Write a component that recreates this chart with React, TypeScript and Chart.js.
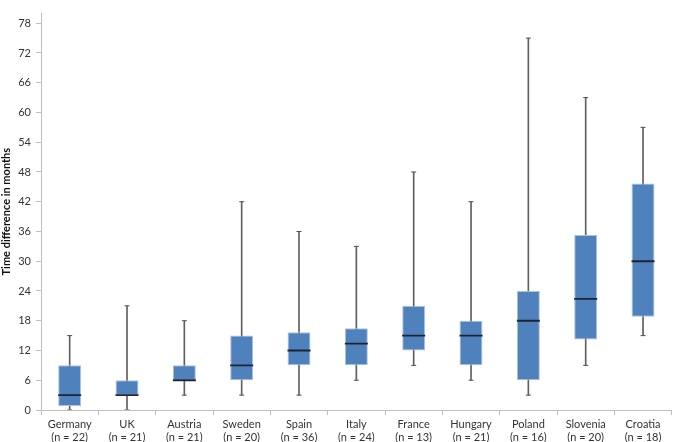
import React, { useEffect, useRef } from "react";
import { Chart, registerables } from "chart.js";

Chart.register(...registerables);

const categories = ["Germany", "UK", "Austria", "Sweden", "Spain", "Italy", "France", "Hungary", "Poland", "Slovenia", "Croatia"];
const sampleSizes = [22, 21, 21, 20, 36, 24, 13, 21, 16, 20, 18];
const minValues = [0, 0, 3, 3, 3, 6, 9, 6, 3, 9, 15];
const q1Values = [0.8, 3, 6, 6, 9, 9, 12, 9, 6, 14.2, 18.8];
const medianValues = [3, 3, 6, 9, 12, 13.4, 15, 15, 18, 22.4, 30];
const q3Values = [9, 6, 9, 15, 15.7, 16.5, 21, 18, 24, 35.3, 45.7];
const maxValues = [15, 21, 18, 42, 36, 33, 48, 42, 75, 63, 57];

const FONT = "Lato, 'Open Sans', sans-serif";

export default function App() {
  const ref = useRef<HTMLCanvasElement | null>(null);
  useEffect(() => {
    if (!ref.current) return;
    const labels = categories.map((c, i) => [c, `(n = ${sampleSizes[i]})`]);
    const chart = new Chart(ref.current, {
      type: "bar",
      data: {
        labels,
        datasets: [
          {
            type: "bar",
            label: "whisker",
            data: categories.map((_, i) => [minValues[i], maxValues[i]]),
            backgroundColor: "#606060",
            borderWidth: 0,
            barThickness: 1,
            grouped: false,
            order: 5,
          } as any,
          {
            type: "bar",
            label: "box",
            data: categories.map((_, i) => [q1Values[i], q3Values[i]]),
            backgroundColor: "#4f81bd",
            borderColor: "#a9c2e0",
            borderWidth: 1,
            borderSkipped: false,
            barPercentage: 0.4,
            categoryPercentage: 1,
            grouped: false,
            order: 4,
          } as any,
          {
            type: "line",
            label: "median",
            data: medianValues,
            showLine: false,
            pointStyle: "line",
            pointRadius: 11.5,
            pointBorderWidth: 1.8,
            pointBorderColor: "#1c2533",
            pointBackgroundColor: "#1c2533",
            order: 1,
          } as any,
          {
            type: "line",
            label: "maxCap",
            data: maxValues,
            showLine: false,
            pointStyle: "line",
            pointRadius: 2.5,
            pointBorderWidth: 1,
            pointBorderColor: "#505050",
            order: 2,
          } as any,
          {
            type: "line",
            label: "minCap",
            data: minValues,
            showLine: false,
            pointStyle: "line",
            pointRadius: 2.5,
            pointBorderWidth: 1,
            pointBorderColor: "#505050",
            order: 2,
          } as any,
        ],
      },
      options: {
        responsive: true,
        maintainAspectRatio: false,
        animation: false,
        layout: { padding: { top: 1, right: 2, left: 0, bottom: 0 } },
        plugins: { legend: { display: false }, tooltip: { enabled: false } },
        scales: {
          x: {
            offset: true,
            grid: { drawOnChartArea: false, drawTicks: true, tickLength: 5, color: "#bfbfbf", offset: true },
            border: { color: "#bfbfbf" },
            ticks: { color: "#333333", font: { family: FONT, size: 11 }, padding: 3, maxRotation: 0, autoSkip: false },
            afterFit: (s: any) => { s.height = 32; },
          },
          y: {
            min: 0,
            max: 80,
            grid: { drawOnChartArea: false, drawTicks: true, tickLength: 5, color: "#bfbfbf" },
            border: { color: "#bfbfbf" },
            ticks: { stepSize: 6, includeBounds: false, color: "#333333", font: { family: FONT, size: 11 }, padding: 5 },
            title: {
              display: true,
              text: "Time difference in months",
              color: "#111111",
              font: { family: FONT, size: 11, weight: "bold" },
              padding: 0,
            },
            afterFit: (s: any) => { s.width = 41; },
          },
        },
      } as any,
    });
    return () => chart.destroy();
  }, []);
  return (
    <div style={{ position: "absolute", left: 0, top: 0, width: 685, height: 442 }}>
      <canvas ref={ref} />
    </div>
  );
}
